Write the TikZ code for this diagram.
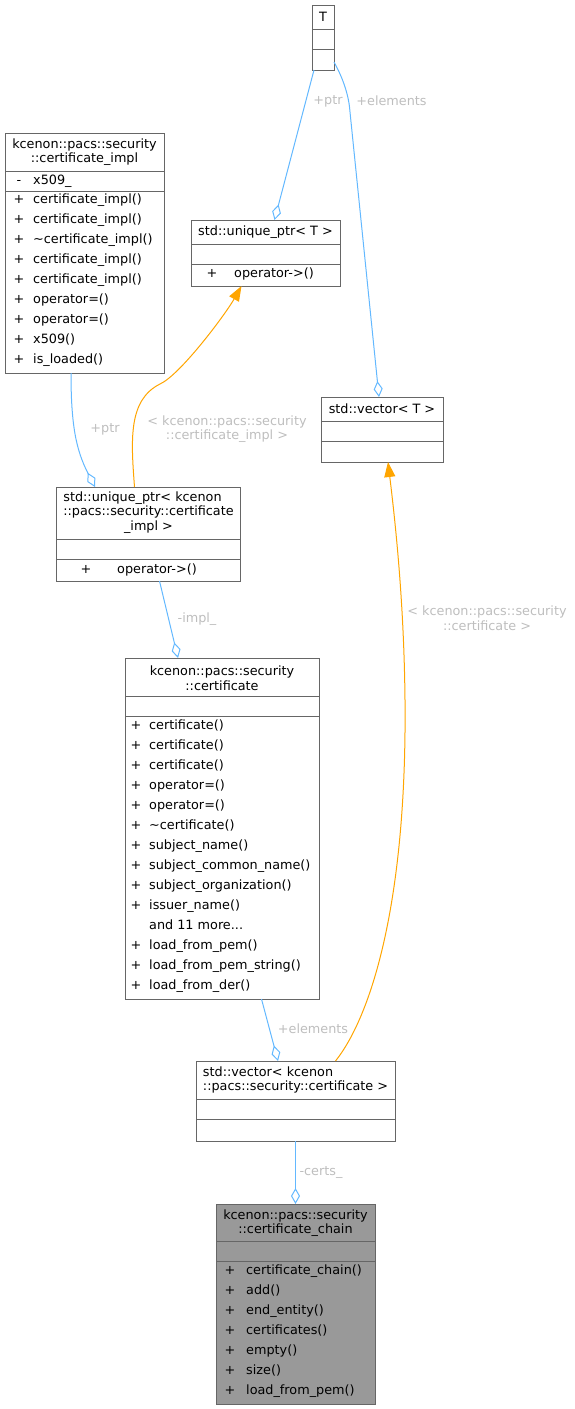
\documentclass[tikz,border=0pt]{standalone}
\usepackage{fontspec}
\setmainfont{DejaVu Sans}
\usetikzlibrary{arrows.meta}
\definecolor{edgeblue}{HTML}{63B8FF}
\definecolor{tmplorange}{HTML}{FFA500}
\definecolor{lblgray}{HTML}{BEBEBE}
\definecolor{boxgray}{HTML}{666666}
\definecolor{chainfill}{HTML}{999999}

\begin{document}
\begin{tikzpicture}[x=1pt,y=-1pt,font=\fontsize{12.8}{14.5}\selectfont,
  cls/.style={rectangle,draw=boxgray,line width=1pt,fill=white,inner sep=0pt,outer sep=0pt,anchor=north west},
  sep/.style={draw=boxgray,line width=1pt},
  ttl/.style={inner sep=0pt,align=center},
  txt/.style={inner sep=0pt,anchor=base west},
  sgn/.style={inner sep=0pt,anchor=base},
  lbl/.style={inner sep=0pt,text=lblgray,align=center},
  agg/.style={draw=edgeblue,line width=1pt,-{Diamond[open,length=16pt,width=9pt]}},
  tmpl/.style={draw=tmplorange,line width=1pt,-{Triangle[length=15pt,width=11pt]}}]
	  \useasboundingbox (0,0) rectangle (574,1409);

	  \node[cls,minimum width=22pt,minimum height=65pt]   (T)   at (312,5)    {};
	  \node[cls,minimum width=159pt,minimum height=240pt] (CI)  at (5,133)    {};
	  \node[cls,minimum width=149pt,minimum height=66pt]  (UP)  at (191,220)  {};
	  \node[cls,minimum width=122pt,minimum height=65pt]  (VT)  at (321,397)  {};
	  \node[cls,minimum width=184pt,minimum height=94pt]  (UPI) at (56,487)   {};
	  \node[cls,minimum width=194pt,minimum height=341pt] (C)   at (125,658)  {};
	  \node[cls,minimum width=199pt,minimum height=80pt]  (VC)  at (196,1061) {};
	  \node[cls,minimum width=159pt,minimum height=200pt,fill=chainfill] (CC) at (216,1204) {};

	  \foreach \b/\ya/\yb in {T/29/49,CI/171/191,UP/244/264,VT/421/441,UPI/539/559,C/696/716,VC/1099/1119,CC/1241/1261}
	    \draw[sep] (\b.west |- 0,\ya) -- (\b.east |- 0,\ya) (\b.west |- 0,\yb) -- (\b.east |- 0,\yb);

	  \node[ttl] (T-t)   at (323,17)     {T};
	  \node[ttl] (CI-t)  at (84.5,152)   {kcenon::pacs::security\\::certificate\_impl};
	  \node[ttl] (UP-t)  at (265.5,232)  {std::unique\_ptr< T >};
	  \node[ttl] (VT-t)  at (382,409)    {std::vector< T >};
	  \node[ttl] (UPI-t) at (148.5,513)  {\begin{tabular}{@{}l@{}}std::unique\_ptr< kcenon\\::pacs::security::certificate\\\multicolumn{1}{@{}c@{}}{\_impl >}\end{tabular}};
	  \node[ttl] (C-t)   at (222,678)    {kcenon::pacs::security\\::certificate};
	  \node[ttl,align=left] (VC-t) at (295.5,1080) {std::vector< kcenon\\::pacs::security::certificate >};
	  \node[ttl] (CC-t)  at (295.5,1223) {kcenon::pacs::security\\::certificate\_chain};

	  \node[sgn] (CI-s) at (19,184.5) {-};
	  \node[txt] (CI-a) at (33,184.5) {x509\_};
	  \foreach \m [count=\i] in {certificate\_impl(),certificate\_impl(),\textasciitilde certificate\_impl(),certificate\_impl(),certificate\_impl(),operator=(),operator=(),x509(),is\_loaded()} {
	    \node[sgn] (CI-p\i) at (19,183.5+20*\i) {+};
	    \node[txt] (CI-m\i) at (33,183.5+20*\i) {\m};
	  }
	  \node[sgn] (UP-p)  at (212,277.5) {+};
	  \node[txt] (UP-m)  at (234,277.5) {operator->()};
	  \node[sgn] (UPI-p) at (86,573.5)  {+};
	  \node[txt] (UPI-m) at (117,573.5) {operator->()};
	  \foreach \s/\m [count=\i] in {+/certificate(),+/certificate(),+/certificate(),+/operator=(),+/operator=(),+/\textasciitilde certificate(),+/subject\_name(),+/subject\_common\_name(),+/subject\_organization(),+/issuer\_name(),{}/and 11 more.{}.{}.,+/load\_from\_pem(),+/load\_from\_pem\_string(),+/load\_from\_der()} {
	    \node[sgn] (C-p\i) at (136,709.5+20*\i) {\s};
	    \node[txt] (C-m\i) at (149,709.5+20*\i) {\m};
	  }
	  \foreach \m [count=\i] in {certificate\_chain(),add(),end\_entity(),certificates(),empty(),size(),load\_from\_pem()} {
	    \node[sgn] (CC-p\i) at (230,1254.5+20*\i) {+};
	    \node[txt] (CC-m\i) at (246,1254.5+20*\i) {\m};
	  }

	  \draw[agg] ([xshift=-9pt]T.south) -- ([xshift=9pt]UP.north);
	  \draw[agg] ([yshift=8pt]T.south east) .. controls (344,80) and (349,97) .. (350,112) -- ([xshift=-3pt]VT.north);
	  \draw[agg] ([xshift=-13.5pt]CI.south) .. controls (71,425) and (76,450) .. ([xshift=-53pt]UPI.north);
	  \draw[tmpl] ([xshift=-13.5pt]UPI.north) .. controls (131,440) and (128,400) .. (160,384) .. controls (180,375) and (225,315) .. ([xshift=-24pt]UP.south);
	  \draw[agg] ([xshift=11.5pt]UPI.south) -- ([xshift=-44pt]C.north);
	  \draw[agg] ([xshift=39.5pt]C.south) -- ([xshift=-17.5pt]VC.north);
	  \draw[tmpl] ([xshift=40pt]VC.north) .. controls (372,1015) and (407,900) .. (405,700) .. controls (404,600) and (395,520) .. ([xshift=6pt]VT.south);
	  \draw[agg] (VC.south) -- (CC.north);

	  \node[lbl] (ptrT)   at (328,101)   {+ptr};
	  \node[lbl] (elemT)  at (391.5,101) {+elements};
	  \node[lbl] (ptrI)   at (105,429)   {+ptr};
	  \node[lbl] (argI)   at (227,429)   {< kcenon::pacs::security\\::certificate\_impl >};
	  \node[lbl] (impl)   at (197,619)   {-impl\_};
	  \node[lbl] (elemC)  at (313,1029)  {+elements};
	  \node[lbl] (argC)   at (487,618)   {< kcenon::pacs::security\\::certificate >};
	  \node[lbl] (certs)  at (321,1172)  {-certs\_};
	\end{tikzpicture}
\end{document}
